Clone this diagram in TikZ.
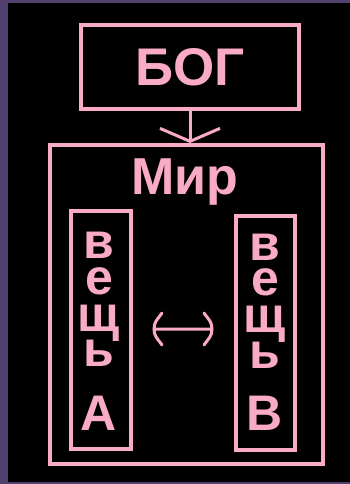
\documentclass[tikz,border=0pt]{standalone}
\usepackage{fontspec}
\setmainfont{Liberation Sans}
\usetikzlibrary{arrows.meta}
\definecolor{rose}{RGB}{249,170,196}
\definecolor{frameviolet}{RGB}{82,64,110}
\tikzset{
  frame/.style={draw=rose, line width=4pt, inner sep=0pt},
  word/.style={text=rose, font=\bfseries\fontsize{50}{50}\selectfont, inner sep=0pt, anchor=base}
}
\begin{document}
\begin{tikzpicture}[x=1pt,y=-1pt]
        \fill[frameviolet] (0,0) rectangle (350,484);
        \fill[black] (8,3) rectangle (350,482);
        \useasboundingbox (0,0) rectangle (350,484);
        \node[frame, minimum width=218pt, minimum height=84pt, text=rose,
              font=\bfseries\fontsize{53}{53}\selectfont] (bog) at (190,67) {БОГ};
        \node[frame, minimum width=273pt, minimum height=319pt] (mir) at (186.5,304.5) {};
        \node[word, font=\bfseries\fontsize{52}{52}\selectfont] (mirlabel) at (185,194) {Мир};
        \node[frame, minimum width=60pt, minimum height=238pt] (left) at (101,330) {};
        \node[frame, minimum width=59pt, minimum height=234pt] (right) at (265.5,333) {};
        % letters of the two columns
        \foreach \ch/\y [count=\i] in {в/258, е/294, щ/331, ь/366, А/430}
          \node[word] (a\i) at (99,\y) {\ch};
        \foreach \ch/\y [count=\i] in {в/260, е/295, щ/332, ь/368, В/430}
          \node[word] (b\i) at (265,\y) {\ch};
        \draw[rose, line width=3pt, -{Straight Barb[length=13pt,width=60pt]}] (bog.south) -- (bog.south |- mir.north);
        % two-way arrow between the things
        \coordinate (pa) at (154,329);
        \coordinate (pb) at (212,329);
        \draw[rose, line width=3pt, line cap=round] (pa) -- (pb)
          (162,313) .. controls +(-5,7) and +(0,-7) .. (pa) .. controls +(0,7) and +(-5,-7) .. (162,345)
          (204,313) .. controls +(5,7) and +(0,-7) .. (pb) .. controls +(0,7) and +(5,-7) .. (204,345);
      \end{tikzpicture}
\end{document}
